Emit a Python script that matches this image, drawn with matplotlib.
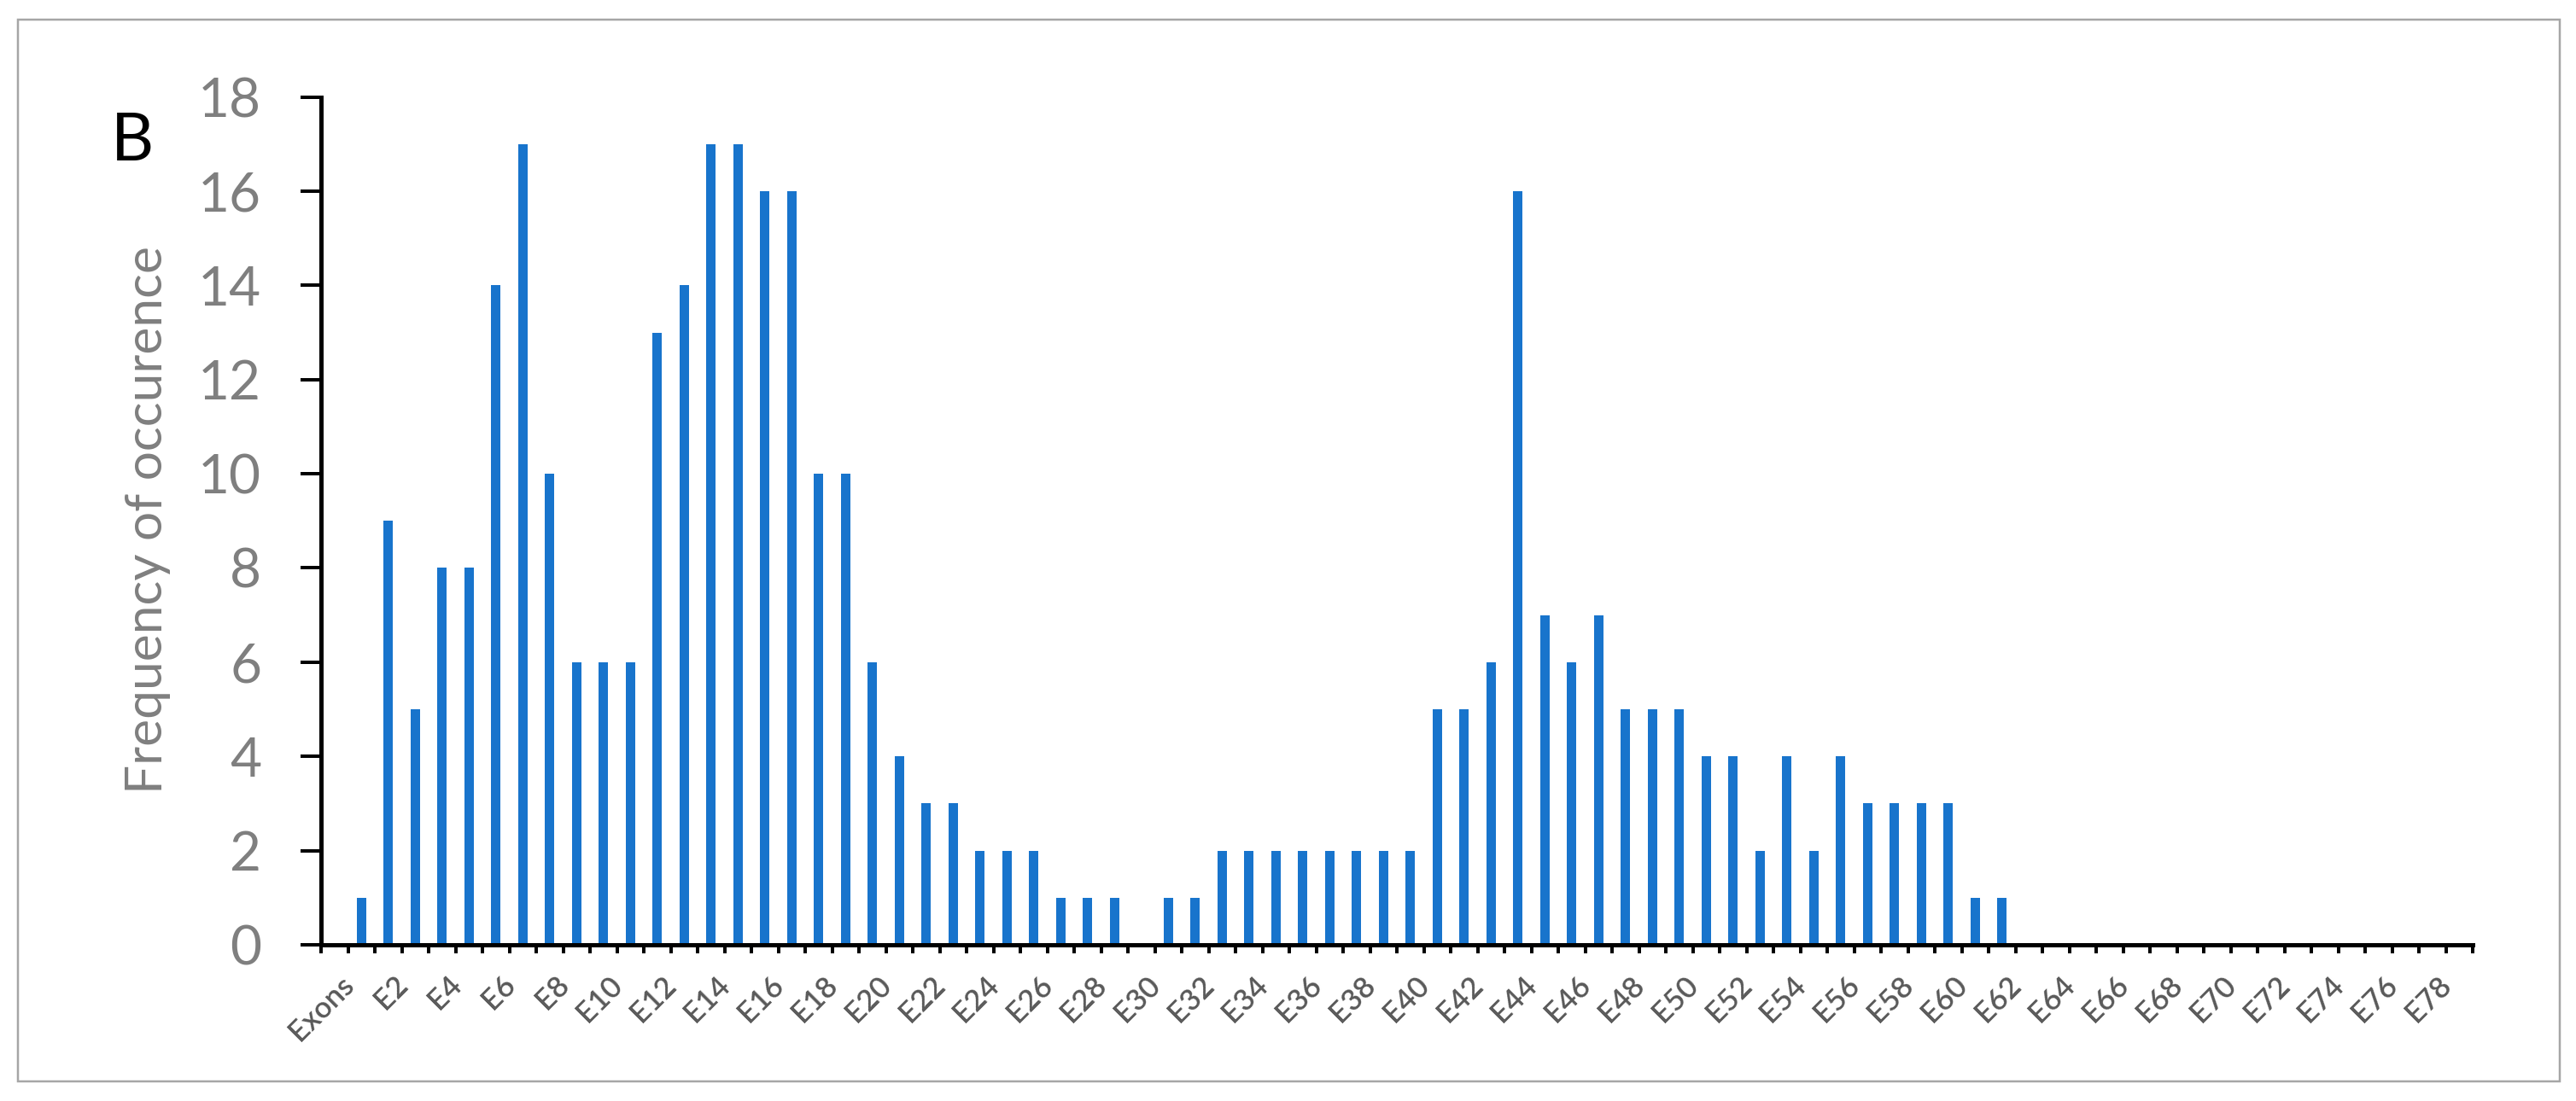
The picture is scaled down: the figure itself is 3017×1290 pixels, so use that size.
import matplotlib
matplotlib.use("Agg")
import matplotlib.pyplot as plt
import matplotlib.transforms as mtransforms
from matplotlib.patches import Rectangle
from matplotlib.ticker import FixedLocator

# ---- data ----
categories = ["Exons"] + ["E%d" % i for i in range(1, 80)]
values = [0, 1, 9, 5, 8, 8, 14, 17, 10, 6,
          6, 6, 13, 14, 17, 17, 16, 16, 10, 10,
          6, 4, 3, 3, 2, 2, 2, 1, 1, 1,
          0, 1, 1, 2, 2, 2, 2, 2, 2, 2,
          2, 5, 5, 6, 16, 7, 6, 7, 5, 5,
          5, 4, 4, 2, 4, 2, 4, 3, 3, 3,
          3, 1, 1, 0, 0, 0, 0, 0, 0, 0,
          0, 0, 0, 0, 0, 0, 0, 0, 0, 0]
y_ticks = [0, 2, 4, 6, 8, 10, 12, 14, 16, 18]
y_label = "Frequency of occurence"
panel_letter = "B"

W, H, DPI = 3017, 1290, 100
PT = 72.0 / DPI  # points per pixel

plt.rcParams['font.family'] = ['Lato', 'DejaVu Sans']

fig = plt.figure(figsize=(W / DPI, H / DPI), dpi=DPI)
fig.patch.set_facecolor('white')

# outer frame
fig.patches.append(Rectangle((21 / W, 23 / H), (2998 - 21) / W, (1267 - 23) / H,
                             transform=fig.transFigure, fill=False,
                             edgecolor='#A6A6A6', linewidth=2.5 * PT))

left, right = 376 / W, 2896 / W
bottom, top = 1 - 1107 / H, 1 - 113.6 / H
ax = fig.add_axes([left, bottom, right - left, top - bottom])

x = list(range(len(categories)))
ax.bar(x, values, width=0.35, color='#1874CC', zorder=2)

ax.set_xlim(-0.5, len(categories) - 0.5)
ax.set_ylim(0, 18)

for s in ['top', 'right']:
    ax.spines[s].set_visible(False)
for s in ['left', 'bottom']:
    ax.spines[s].set_linewidth(5 * PT)
    ax.spines[s].set_color('black')

# y axis
ax.set_yticks(y_ticks)
ax.set_yticklabels([str(v) for v in y_ticks])
ax.tick_params(axis='y', direction='out', length=24 * PT, width=4 * PT,
               color='black', labelsize=46, labelcolor='#7F7F7F', pad=33)

# x axis: labels at category centers (every other), tick marks at boundaries
label_pos = [i for i in x if i % 2 == 0]
ax.set_xticks(label_pos)
ax.set_xticklabels([categories[i] for i in label_pos], rotation=45,
                   ha='right', va='top', rotation_mode='anchor',
                   fontweight='semibold')
ax.tick_params(axis='x', which='major', length=0, labelsize=25,
               labelcolor='#595959', pad=22)
ax.xaxis.set_minor_locator(FixedLocator([i - 0.5 for i in range(len(categories) + 1)]))
ax.tick_params(axis='x', which='minor', direction='out', length=10 * PT,
               width=4 * PT, color='black')
shift = mtransforms.ScaledTranslation(6 / DPI, 0, fig.dpi_scale_trans)
for lbl in ax.get_xticklabels():
    lbl.set_transform(lbl.get_transform() + shift)

# y label
fig.text(173 / W, 1 - 609 / H, y_label, rotation=90, ha='center', va='center',
         fontsize=43.5, color='#7F7F7F')

# panel letter
fig.text(130 / W, 1 - 188 / H, panel_letter, ha='left', va='baseline',
         fontsize=56, color='black')

fig.savefig('out.png', dpi=DPI)
